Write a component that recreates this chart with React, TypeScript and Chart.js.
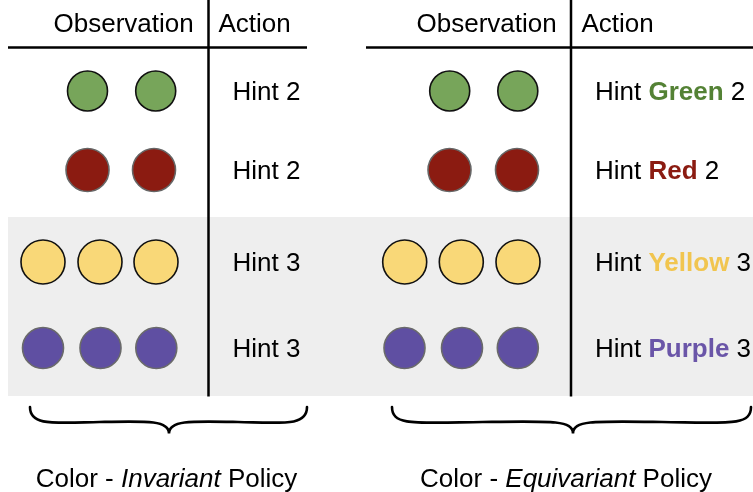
import React, { useEffect, useRef } from "react";
import { Chart, registerables } from "chart.js";

Chart.register(...registerables);

// ---- data ----
const rowNames = ["Green", "Red", "Yellow", "Purple"];
const actionNumbers = ["2", "2", "3", "3"];
const rowY = [91, 170, 262, 348];
const invariantX = [
  [87.5, 155.7],
  [87.5, 154],
  [43, 100, 156],
  [43, 100.5, 156.3],
];
const equivariantX = [
  [449.7, 517.8],
  [449.5, 517],
  [404.7, 461.3, 518],
  [404.5, 462, 517.8],
];
const headerLabels = ["Observation", "Action"];
const captionPrefix = "Color - ";
const captionWords = ["Invariant", "Equivariant"];
const captionSuffix = " Policy";
const actionVerb = "Hint";

// ---- styles ----
const fillColors = ["#77a55a", "#8b1b11", "#f9d878", "#5f4fa2"];
const strokeColors = ["#111111", "#666666", "#111111", "#6a6a6a"];
const textColors = ["#548235", "#8b1b11", "#f1c54f", "#6a55a8"];
const radii = [20, 21.5, 22, 20.5];
const FONT = "'Liberation Sans', Arial, Helvetica, sans-serif";

const diagramPlugin = {
  id: "diagram",
  beforeDatasetsDraw(chart: any) {
    const ctx = chart.ctx;
    const X = (v: number) => chart.scales.x.getPixelForValue(v);
    const Y = (v: number) => chart.scales.y.getPixelForValue(v);
    ctx.save();
    // gray band behind the 3-count rows
    ctx.fillStyle = "#eeeeee";
    ctx.fillRect(X(8), Y(217), X(753) - X(8), Y(396) - Y(217));
    // table lines
    ctx.strokeStyle = "#000";
    ctx.lineWidth = 2.5;
    const line = (x1: number, y1: number, x2: number, y2: number) => {
      ctx.beginPath();
      ctx.moveTo(X(x1), Y(y1));
      ctx.lineTo(X(x2), Y(y2));
      ctx.stroke();
    };
    line(8, 47.5, 307, 47.5);
    line(366, 47.5, 753, 47.5);
    line(208.5, 0, 208.5, 396.5);
    line(571, 0, 571, 396.5);

    // braces
    const brace = (x0: number, tip: number, x1: number) => {
      const top = 407, mid = 423, bot = 433.5;
      ctx.beginPath();
      ctx.lineWidth = 2.6;
      ctx.lineCap = "round";
      ctx.moveTo(X(x0), Y(top));
      ctx.bezierCurveTo(X(x0), Y(mid + 3), X(x0 + 22), Y(mid), X((x0 + tip) / 2), Y(mid - 1));
      ctx.bezierCurveTo(X(tip - 22), Y(mid - 2), X(tip), Y(mid - 3), X(tip), Y(bot));
      ctx.bezierCurveTo(X(tip), Y(mid - 3), X(tip + 22), Y(mid - 2), X((tip + x1) / 2), Y(mid - 1));
      ctx.bezierCurveTo(X(x1 - 22), Y(mid), X(x1), Y(mid + 3), X(x1), Y(top));
      ctx.stroke();
    };
    brace(30, 169, 307);
    brace(392, 573, 751);
    ctx.restore();
  },
  afterDatasetsDraw(chart: any) {
    const ctx = chart.ctx;
    const X = (v: number) => chart.scales.x.getPixelForValue(v);
    const Y = (v: number) => chart.scales.y.getPixelForValue(v);
    ctx.save();
    ctx.textBaseline = "alphabetic";
    ctx.textAlign = "left";
    const reg = `26px ${FONT}`;
    const bold = `bold 26px ${FONT}`;
    const ital = `italic 26px ${FONT}`;
    ctx.fillStyle = "#000";
    ctx.font = reg;
    // headers
    ctx.fillText(headerLabels[0], X(53.5), Y(32));
    ctx.fillText(headerLabels[1], X(218.5), Y(32));
    ctx.fillText(headerLabels[0], X(416.5), Y(32));
    ctx.fillText(headerLabels[1], X(581.5), Y(32));

    // actions
    rowNames.forEach((name, i) => {
      const by = Y(rowY[i] + 8.8);
      ctx.font = reg;
      ctx.fillStyle = "#000";
      ctx.fillText(`${actionVerb} ${actionNumbers[i]}`, X(232.5), by);
      // equivariant: Hint <Color> n
      let x = X(595);
      const pre = `${actionVerb} `;
      ctx.fillText(pre, x, by);
      x += ctx.measureText(pre).width;
      ctx.font = bold;
      ctx.fillStyle = textColors[i];
      ctx.fillText(name, x, by);
      x += ctx.measureText(name).width;
      ctx.font = reg;
      ctx.fillStyle = "#000";
      ctx.fillText(` ${actionNumbers[i]}`, x, by);
    });

    // captions
    const caption = (word: string, cx: number) => {
      ctx.font = reg;
      const w1 = ctx.measureText(captionPrefix).width;
      const w3 = ctx.measureText(captionSuffix).width;
      ctx.font = ital;
      const w2 = ctx.measureText(word).width;
      let x = X(cx) - (w1 + w2 + w3) / 2;
      const by = Y(487);
      ctx.fillStyle = "#000";
      ctx.font = reg;
      ctx.fillText(captionPrefix, x, by);
      x += w1;
      ctx.font = ital;
      ctx.fillText(word, x, by);
      x += w2;
      ctx.font = reg;
      ctx.fillText(captionSuffix, x, by);
    };
    caption(captionWords[0], 166.5);
    caption(captionWords[1], 566);
    ctx.restore();
  },
};

export default function App() {
  const ref = useRef<HTMLCanvasElement | null>(null);
  useEffect(() => {
    document.body.style.margin = "0";
    const datasets = rowNames.map((name, i) => ({
      label: name,
      data: [...invariantX[i], ...equivariantX[i]].map((x) => ({ x, y: rowY[i] })),
      backgroundColor: fillColors[i],
      borderColor: strokeColors[i],
      borderWidth: 1.6,
      pointRadius: radii[i],
      pointHoverRadius: radii[i],
      clip: false as any,
    }));
    const chart = new Chart(ref.current as HTMLCanvasElement, {
      type: "scatter",
      data: { datasets },
      options: {
        animation: false,
        responsive: false,
        events: [],
        layout: { padding: 0, autoPadding: false },
        plugins: { legend: { display: false }, tooltip: { enabled: false } },
        scales: {
          x: { type: "linear", min: 0, max: 753, display: false },
          y: { type: "linear", min: 0, max: 492, reverse: true, display: false },
        },
      },
      plugins: [diagramPlugin],
    });
    return () => chart.destroy();
  }, []);
  return (
    <div style={{ position: "fixed", left: 0, top: 0, width: 753, height: 492, background: "#fff" }}>
      <canvas ref={ref} width={753} height={492} />
    </div>
  );
}
